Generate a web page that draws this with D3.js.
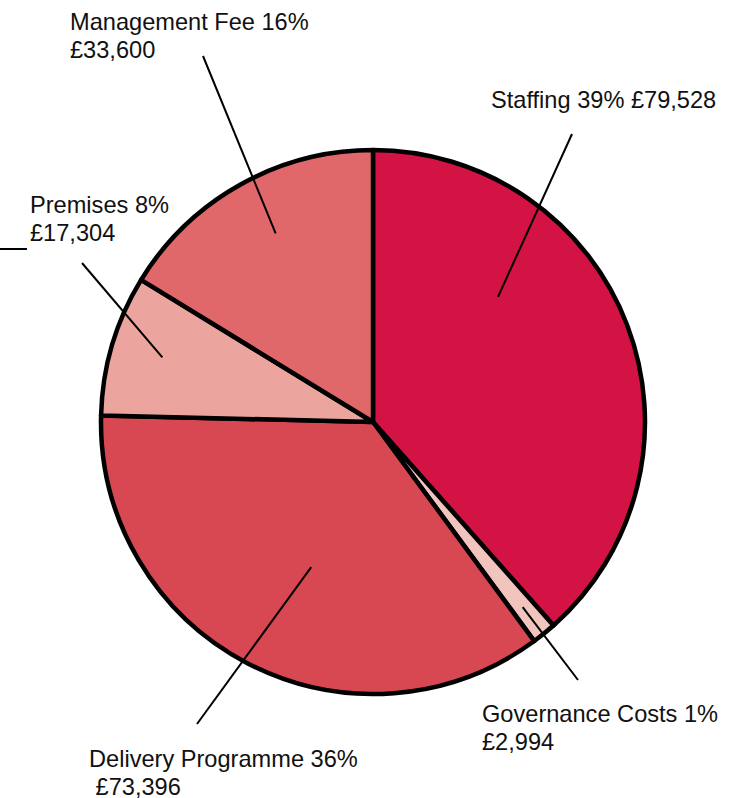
<!DOCTYPE html>
<html><head><meta charset="utf-8">
<script src="https://cdn.jsdelivr.net/npm/d3@7"></script>
<style>
html,body{margin:0;padding:0;background:#fff;}
svg{display:block;}
text{font-family:"Liberation Sans",Arial,Helvetica,sans-serif;fill:#111;}
</style></head>
<body>
<svg id="chart" width="741" height="798"></svg>
<script>
// Data
const categories = ["Staffing", "Governance Costs", "Delivery Programme", "Premises", "Management Fee"];
const amounts = [79528, 2994, 73396, 17304, 33600];
const percentLabels = ["39%", "1%", "36%", "8%", "16%"];
const colors = ["#D31344", "#F2C4BE", "#D84853", "#EBA59E", "#E0686A"];

// Label layout (positions only)
const labelLayout = [
  {lines: (c,p,v) => [c + " " + p + " " + v], x: 491, y: 108, dx: [0], lineEnd: [572,134], f: 0.325, rf: 0.65},
  {lines: (c,p,v) => [c + " " + p, v], x: 482, y: 722, dx: [0,0], lineEnd: [578,680], f: 0.5, rf: 0.875},
  {lines: (c,p,v) => [c + " " + p, " " + v], x: 89, y: 767, dx: [0,0], lineEnd: [197,724], f: 0.465, rf: 0.58},
  {lines: (c,p,v) => [c + " " + p, v], x: 30, y: 213, dx: [0,0], lineEnd: [82,263], f: 0.52, rf: 0.81},
  {lines: (c,p,v) => [c + " " + p, v], x: 70, y: 30, dx: [0,0], lineEnd: [203,56], f: 0.533, rf: 0.78}
];

const cx = 373, cy = 422, R = 272;
const svg = d3.select("#chart");
const g = svg.append("g").attr("transform", `translate(${cx},${cy})`);

const data = categories.map((c, i) => ({cat: c, value: amounts[i], pct: percentLabels[i], color: colors[i], i}));
const pie = d3.pie().value(d => d.value).sort(null);
const arc = d3.arc().innerRadius(0).outerRadius(R);
const arcs = pie(data);

g.selectAll("path.slice").data(arcs).join("path")
  .attr("class", "slice")
  .attr("d", arc)
  .attr("fill", d => d.data.color)
  .attr("stroke", "#000")
  .attr("stroke-width", 4.5)
  .attr("stroke-linejoin", "round");

const fmt = d3.format(",");
// leader lines
arcs.forEach((d, i) => {
  const L = labelLayout[i];
  const a = d.startAngle + L.f * (d.endAngle - d.startAngle);
  const r = L.rf * R;
  const x1 = cx + r * Math.sin(a), y1 = cy - r * Math.cos(a);
  svg.append("line")
    .attr("x1", x1).attr("y1", y1)
    .attr("x2", L.lineEnd[0]).attr("y2", L.lineEnd[1])
    .attr("stroke", "#000").attr("stroke-width", 2);
  const lines = L.lines(d.data.cat, d.data.pct, "£" + fmt(d.data.value));
  const t = svg.append("text").attr("font-size", 23.6);
  lines.forEach((ln, k) => {
    t.append("tspan").attr("x", L.x + (L.dx[k] || 0)).attr("y", L.y + k * 27.5).attr("xml:space","preserve").text(ln);
  });
});
// stray tick near Premises label
svg.append("line").attr("x1", 0).attr("y1", 249).attr("x2", 27).attr("y2", 249)
  .attr("stroke", "#000").attr("stroke-width", 2);
</script>
</body></html>
